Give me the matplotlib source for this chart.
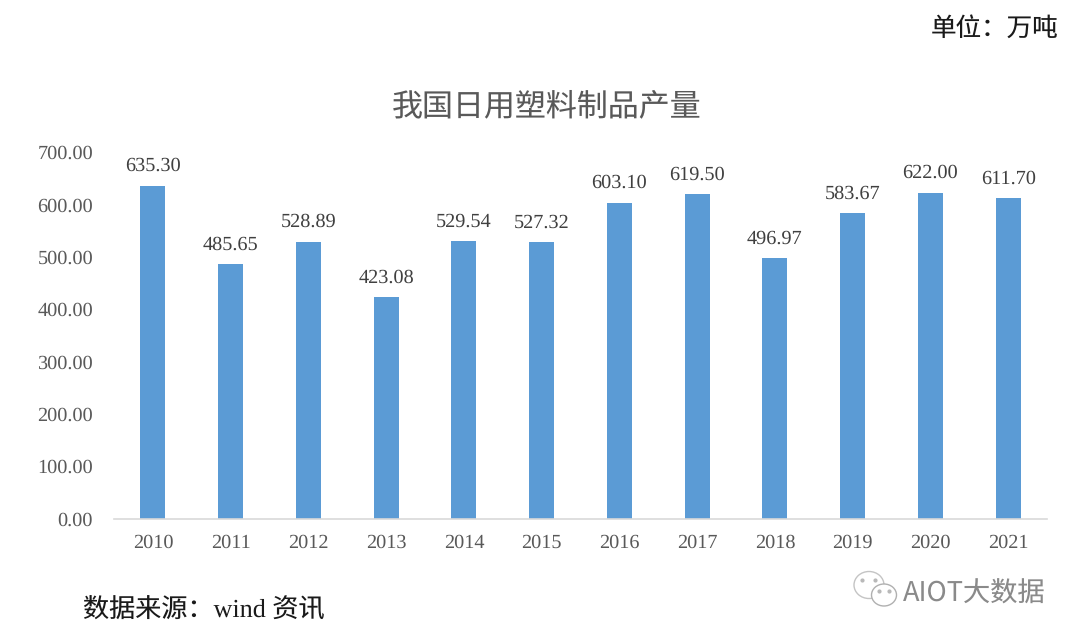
#!/usr/bin/env python3
import matplotlib
matplotlib.use("Agg")
import matplotlib.pyplot as plt
from matplotlib.patches import Ellipse

# data
years = ["2010", "2011", "2012", "2013", "2014", "2015",
         "2016", "2017", "2018", "2019", "2020", "2021"]
output = [635.30, 485.65, 528.89, 423.08, 529.54, 527.32,
          603.10, 619.50, 496.97, 583.67, 622.00, 611.70]
y_ticks = [0, 100, 200, 300, 400, 500, 600, 700]

W, H = 1080, 638
LATIN = "Liberation Serif"
CJK = ["Liberation Serif", "Noto Sans CJK SC"]

plt.rcParams["text.hinting"] = "none"

fig = plt.figure(figsize=(W / 100, H / 100), dpi=100)
ax = fig.add_axes([114 / W, 1 - 518.5 / H, (1047 - 114) / W, (518.5 - 152) / H])

ax.bar(range(len(years)), output, width=0.32, color="#5b9bd5")
ax.set_xlim(-0.5, len(years) - 0.5)
ax.set_ylim(0, 700)

for i, val in enumerate(output):
    ax.annotate(f"{val:.2f}", (i, val), xytext=(0, 7.5), textcoords="offset points",
                ha="center", va="bottom", fontsize=14.6, family=LATIN, color="#404040")

ax.set_xticks(range(len(years)))
ax.set_xticklabels(years, family=LATIN, fontsize=14.6, color="#595959")
ax.set_yticks(y_ticks)
ax.set_yticklabels([f"{v:.2f}" for v in y_ticks], family=LATIN, fontsize=14.6, color="#595959")
ax.tick_params(axis="x", length=0, pad=11)
ax.tick_params(axis="y", length=0, pad=15)

for s in ("top", "right", "left"):
    ax.spines[s].set_visible(False)
ax.spines["bottom"].set_color("#d9d9d9")
ax.spines["bottom"].set_linewidth(1.2)

# title, unit, source
fig.text(547 / W, 1 - 107 / H, "我国日用塑料制品产量", ha="center", va="center",
         fontsize=22.3, family=CJK, color="#595959", fontweight="light")
fig.text(1059 / W, 1 - 29 / H, "单位：万吨", ha="right", va="center",
         fontsize=18.4, family=CJK, color="#1a1a1a", fontweight="light")
fig.text(83 / W, 1 - 611 / H, "数据来源：wind 资讯", ha="left", va="center",
         fontsize=18.8, family=CJK, color="#1a1a1a", fontweight="light")

# watermark
fig.text(903 / W, 1 - 594 / H, "AIOT大数据", ha="left", va="center", fontsize=19.6,
         family=["Noto Sans CJK SC"], color="#8a8a8a", fontweight="light")
over = fig.add_axes([0, 0, 1, 1], facecolor="none")
over.set_xlim(0, W)
over.set_ylim(H, 0)
over.axis("off")
over.add_patch(Ellipse((869, 585), 30, 27, fc="white", ec="#c4c4c4", lw=1))
over.add_patch(Ellipse((884, 595), 25, 22, fc="white", ec="#b0b0b0", lw=1))
over.plot([862, 875, 879, 889], [580, 580, 591, 591], ls="none", marker="o", ms=2, color="#b8b8b8")

fig.savefig("out.png", dpi=100, facecolor="white")
